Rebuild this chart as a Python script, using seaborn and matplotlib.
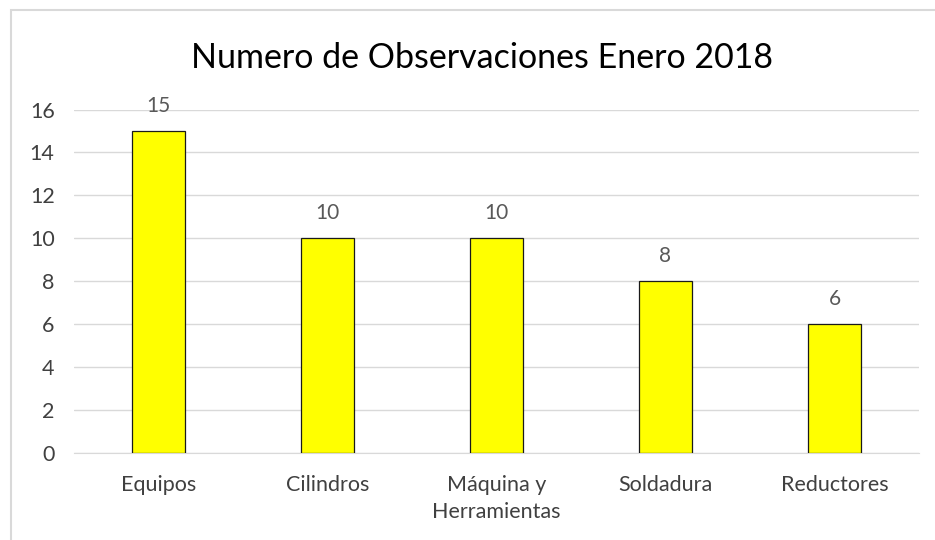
import matplotlib
matplotlib.use('Agg')
import matplotlib.pyplot as plt
import seaborn as sns
import pandas as pd
from matplotlib.patches import Rectangle

# datos
categorias = ['Equipos', 'Cilindros', 'Máquina y\nHerramientas', 'Soldadura', 'Reductores']
observaciones = [15, 10, 10, 8, 6]
ticks_y = [0, 2, 4, 6, 8, 10, 12, 14, 16]

df = pd.DataFrame({'Categoria': categorias, 'Observaciones': observaciones})

sns.set_style('white')
plt.rcParams['font.family'] = ['Lato', 'DejaVu Sans']

fig = plt.figure(figsize=(9.35, 5.4), dpi=100)
ax = fig.add_axes([74 / 935, 1 - 453 / 540, 845 / 935, (453 - 109.5) / 540])

sns.barplot(data=df, x='Categoria', y='Observaciones', color='#ffff00',
            edgecolor='#1a1a1a', linewidth=0.9, width=0.315, saturation=1, ax=ax, zorder=3)

ax.set_ylim(0, 16)
ax.set_yticks(ticks_y)
ax.set_xlim(-0.5, len(categorias) - 0.5)
ax.yaxis.grid(True, color='#d9d9d9', linewidth=1, zorder=0)
ax.set_axisbelow(True)
for s in ['top', 'right', 'left']:
    ax.spines[s].set_visible(False)
ax.spines['bottom'].set_color('#d9d9d9')
ax.set_xlabel('')
ax.set_ylabel('')
ax.tick_params(axis='both', length=0, labelsize=15.5, labelcolor='#404040')
ax.tick_params(axis='y', pad=14)
ax.tick_params(axis='x', pad=16)
for t in ax.get_xticklabels():
    t.set_linespacing(1.45)

ax.bar_label(ax.containers[0], padding=11, fontsize=15, color='#595959')

fig.text(482 / 935, 1 - 58 / 540, 'Numero de Observaciones Enero 2018', ha='center', va='center',
         fontsize=24.5, color='#000000')

# borde del grafico
fig.patches.append(Rectangle((11 / 935, -0.05), 1.0, 1 - 10 / 540 + 0.05, transform=fig.transFigure,
                             fill=False, edgecolor='#d9d9d9', linewidth=1.5))

plt.savefig('out.png', dpi=100)
